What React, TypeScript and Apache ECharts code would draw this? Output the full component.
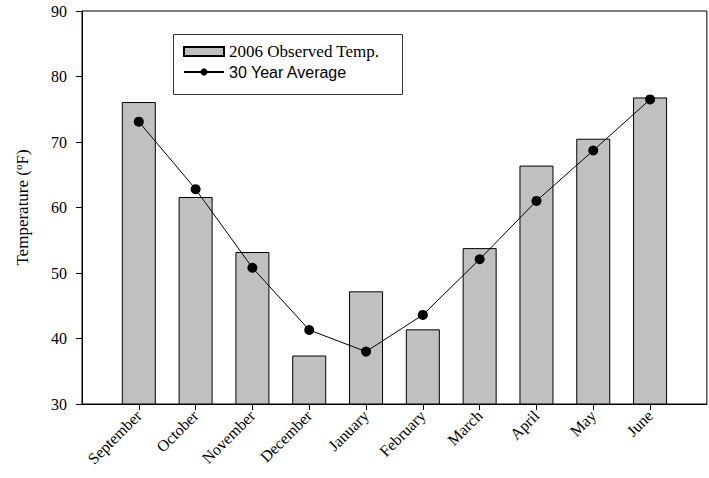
import React, { useEffect, useRef } from "react";
import * as echarts from "echarts";

const months = ["September", "October", "November", "December", "January", "February", "March", "April", "May", "June"];
const observed2006 = [76.1, 61.6, 53.2, 37.4, 47.2, 41.4, 53.8, 66.4, 70.5, 76.8];
const average30 = [73.1, 62.8, 50.8, 41.3, 38.0, 43.6, 52.1, 61.0, 68.7, 76.5];
const yTicks = { min: 30, max: 90, interval: 10 };

const SERIF = "'Liberation Serif', 'Times New Roman', serif";
const SANS = "'Liberation Sans', Arial, sans-serif";

export default function App() {
  const ref = useRef<HTMLDivElement>(null);
  useEffect(() => {
    if (!ref.current) return;
    const chart = echarts.init(ref.current, undefined, { renderer: "svg" });
    const cats = ["", ...months, ""];
    const barData = [null, ...observed2006, null];
    const lineData = [null, ...average30, null];
    chart.setOption({
      animation: false,
      backgroundColor: "#fff",
      grid: {
        left: 82,
        right: 2,
        top: 11,
        bottom: 74,
        show: true,
        borderColor: "#000",
        borderWidth: 1,
      },
      graphic: [
        {
          type: "rect",
          left: 171,
          top: 32,
          shape: { width: 229, height: 60 },
          style: { fill: "none", stroke: "#333", lineWidth: 1 },
          z: 10,
        },
      ],
      legend: {
        orient: "vertical",
        left: 183,
        top: 43,
        itemWidth: 40,
        itemHeight: 9,
        itemGap: 4,
        itemTextGap: 5,
        padding: 0,
        data: [
          {
            name: "2006 Observed Temp.",
            icon: "rect",
            textStyle: { fontFamily: SERIF, fontSize: 17, color: "#000" },
          },
          {
            name: "30 Year Average",
            textStyle: { fontFamily: SANS, fontSize: 16, color: "#000" },
          },
        ],
      },
      xAxis: {
        type: "category",
        data: cats,
        boundaryGap: false,
        axisLine: { lineStyle: { color: "#000", width: 1 } },
        axisTick: {
          show: true,
          length: 6,
          interval: (i: number) => i > 0 && i < cats.length - 1,
          lineStyle: { color: "#000" },
        },
        axisLabel: {
          interval: 0,
          rotate: 45,
          margin: 9,
          fontFamily: SERIF,
          fontSize: 16,
          color: "#000",
        },
        splitLine: { show: false },
      },
      yAxis: {
        type: "value",
        min: yTicks.min,
        max: yTicks.max,
        interval: yTicks.interval,
        name: "{n|Temperature (}{s|o}{n|F)}",
        nameLocation: "middle",
        nameGap: 50,
        nameRotate: 90,
        nameTextStyle: {
          rich: {
            n: { fontFamily: SERIF, fontSize: 17, color: "#000" },
            s: { fontFamily: SERIF, fontSize: 11, color: "#000", verticalAlign: "top", padding: [0, 0, 9, 0] },
          },
        },
        axisLine: { show: true, lineStyle: { color: "#000", width: 1 } },
        axisTick: { show: true, length: 6, lineStyle: { color: "#000" } },
        axisLabel: { margin: 15, fontFamily: SERIF, fontSize: 16, color: "#000" },
        splitLine: { show: false },
      },
      series: [
        {
          name: "2006 Observed Temp.",
          type: "bar",
          data: barData,
          barWidth: 34,
          itemStyle: { color: "#c0c0c0", borderColor: "#000", borderWidth: 1 },
        },
        {
          name: "30 Year Average",
          type: "line",
          data: lineData,
          symbol: "circle",
          symbolSize: 10,
          itemStyle: { color: "#000" },
          lineStyle: { color: "#000", width: 1 },
          z: 5,
        },
      ],
    });
    return () => chart.dispose();
  }, []);
  return (
    <div
      ref={ref}
      style={{ position: "fixed", left: 0, top: 0, width: 709, height: 478 }}
    />
  );
}
